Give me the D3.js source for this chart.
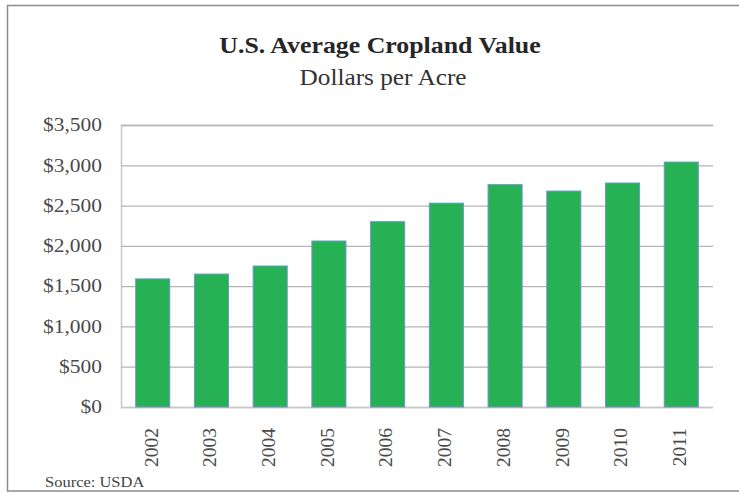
<!DOCTYPE html>
<html><head><meta charset="utf-8">
<script src="https://cdn.jsdelivr.net/npm/d3@7"></script>
<style>body{margin:0;background:#fff}svg{display:block}</style>
</head><body>
<svg id="c" width="739" height="493"></svg>
<script>
const years = ["2002","2003","2004","2005","2006","2007","2008","2009","2010","2011"];
const values = [1590,1650,1750,2060,2300,2530,2760,2680,2780,3040];
const yTicks = [0,500,1000,1500,2000,2500,3000,3500];
const title = "U.S. Average Cropland Value";
const subtitle = "Dollars per Acre";
const source = "Source: USDA";

const svg = d3.select("#c");
const serif = "'Liberation Serif','DejaVu Serif',serif";
const M = {left:121, right:713, top:125, bottom:407};
const sx = 1.1;

svg.append("rect").attr("x",7.5).attr("y",5.5).attr("width",740).attr("height",485.5)
  .attr("fill","#fff").attr("stroke","#8c8c8c").attr("stroke-width",1.5);

const x = d3.scaleBand().domain(years).range([M.left,M.right]).paddingInner(0.42).paddingOuter(0.25);
const y = d3.scaleLinear().domain([0,3500]).range([M.bottom,M.top]);

const yAxis = svg.append("g").attr("transform",`translate(${M.left},0)`)
  .call(d3.axisLeft(y).tickValues(yTicks).tickSize(-(M.right-M.left)).tickPadding(0)
    .tickFormat(d=>"$"+d3.format(",")(d)));
yAxis.select(".domain").attr("stroke","#c8c8c8").attr("stroke-width",1.5);
yAxis.selectAll(".tick line").attr("stroke",d=>d===0?"#c8c8c8":"#b4b4b4").attr("stroke-width",1.3);
yAxis.selectAll(".tick text").attr("font-family",serif).attr("font-size",19.5).attr("fill","#4a4a4a")
  .attr("x",-17.3).attr("dy","0.3em").attr("transform",`scale(${sx},1)`);

svg.append("g").selectAll("rect").data(values).join("rect")
  .attr("x",(d,i)=>x(years[i])).attr("width",x.bandwidth())
  .attr("y",d=>y(d)).attr("height",d=>y(0)-y(d))
  .attr("fill","#27b155").attr("stroke","#6f95c9").attr("stroke-width",1);

const xAxis = svg.append("g").attr("transform",`translate(0,${M.bottom})`)
  .call(d3.axisBottom(x).tickSize(0).tickPadding(0));
xAxis.select(".domain").remove();
xAxis.selectAll(".tick text").attr("font-family",serif).attr("font-size",19.5).attr("fill","#4a4a4a")
  .attr("transform","rotate(-90)").attr("text-anchor","end").attr("dy","0.3em").attr("x",-21).attr("y",-1);

svg.append("text").attr("transform",`translate(380,53) scale(${sx},1)`).attr("text-anchor","middle")
  .attr("font-family",serif).attr("font-weight","bold").attr("font-size",23.5).attr("fill","#262626").text(title);
svg.append("text").attr("transform",`translate(383,85) scale(${sx},1)`).attr("text-anchor","middle")
  .attr("font-family",serif).attr("font-size",23).attr("fill","#333").text(subtitle);
svg.append("text").attr("transform",`translate(45,487) scale(${sx},1)`)
  .attr("font-family",serif).attr("font-size",15).attr("fill","#444").text(source);
</script>
</body></html>
